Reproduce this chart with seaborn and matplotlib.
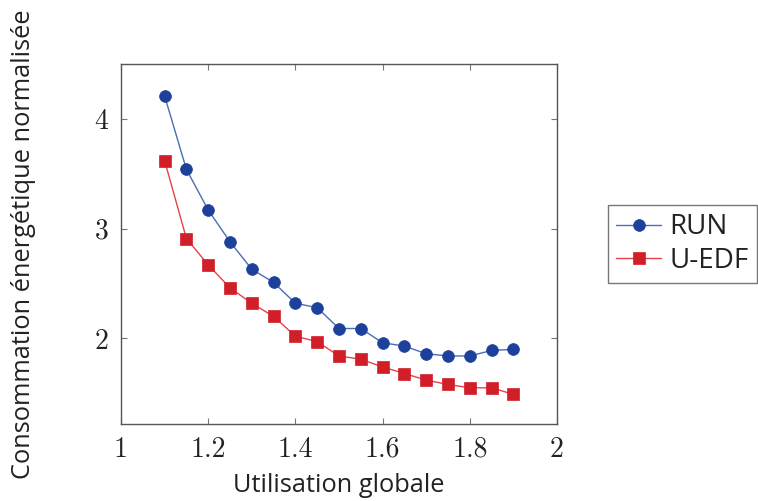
import matplotlib
matplotlib.use("Agg")
import matplotlib.pyplot as plt
import seaborn as sns
import pandas as pd
import numpy as np

utilisation = [1.10, 1.15, 1.20, 1.25, 1.30, 1.35, 1.40, 1.45, 1.50, 1.55,
               1.60, 1.65, 1.70, 1.75, 1.80, 1.85, 1.90]
run_values = [4.21, 3.54, 3.17, 2.88, 2.63, 2.51, 2.32, 2.28, 2.09, 2.09,
              1.96, 1.93, 1.86, 1.84, 1.84, 1.89, 1.90]
uedf_values = [3.62, 2.91, 2.67, 2.46, 2.32, 2.20, 2.02, 1.97, 1.84, 1.81,
               1.74, 1.68, 1.62, 1.58, 1.55, 1.55, 1.49]
series_names = ["RUN", "U-EDF"]
x_ticks = [1, 1.2, 1.4, 1.6, 1.8, 2]
x_tick_labels = ["1", "1.2", "1.4", "1.6", "1.8", "2"]
y_ticks = [2, 3, 4]
y_tick_labels = ["2", "3", "4"]

df = pd.DataFrame({
    "x": utilisation * 2,
    "y": run_values + uedf_values,
    "serie": [series_names[0]] * len(run_values) + [series_names[1]] * len(uedf_values),
})

sns.set_theme(style="white")
plt.rcParams["font.family"] = ["Open Sans", "DejaVu Sans"]

fig = plt.figure(figsize=(7.58, 5.01), dpi=100)
ax = fig.add_axes([121 / 758, 1 - 424 / 501, (557 - 121) / 758, (424 - 64) / 501])

colors = {"RUN": "#1d409b", "U-EDF": "#d11f29"}
line_colors = {"RUN": "#4a6db5", "U-EDF": "#e8414a"}
markers = {"RUN": "o", "U-EDF": "s"}
msizes = {"RUN": 8.5, "U-EDF": 8}

for name in series_names:
    sub = df[df["serie"] == name]
    sns.lineplot(data=sub, x="x", y="y", ax=ax, color=line_colors[name], lw=1.0,
                 marker=markers[name], markersize=msizes[name],
                 markerfacecolor=colors[name], markeredgecolor=colors[name],
                 markeredgewidth=0.5, label=name)

ax.set_xlim(1, 2)
ax.set_ylim(1.22, 4.5)
ax.set_xticks(x_ticks)
ax.set_xticklabels(x_tick_labels, fontfamily="cmr10", fontsize=20, color="#222222")
ax.set_yticks(y_ticks)
ax.set_yticklabels(y_tick_labels, fontfamily="cmr10", fontsize=20, color="#222222")
ax.tick_params(axis="both", direction="in", length=4.5, width=0.8, color="#777777",
               top=True, right=True, bottom=True, left=True)
ax.tick_params(axis="y", pad=9)
ax.tick_params(axis="x", pad=9)
for sp in ax.spines.values():
    sp.set_visible(True)
    sp.set_color("#555555")
    sp.set_linewidth(1.0)

ax.set_xlabel("Utilisation globale", fontsize=18.3, color="#222222")
ax.set_ylabel("Consommation énergétique normalisée", fontsize=18.3, color="#222222")
ax.xaxis.set_label_coords(0.5, (424 - 473) / 360)
ax.yaxis.set_label_coords((36 - 121) / 436, 0.5)

leg = ax.legend(loc="center left", bbox_to_anchor=(608 / 758, 1 - 244 / 501),
                bbox_transform=fig.transFigure, frameon=True, fancybox=False,
                fontsize=20, handlelength=1.6, borderpad=0.3, labelspacing=0.2,
                handletextpad=0.3, borderaxespad=0)
leg.get_frame().set_edgecolor("#555555")
leg.get_frame().set_linewidth(1.0)
for t in leg.get_texts():
    t.set_color("#222222")

fig.savefig("out.png", dpi=100)
